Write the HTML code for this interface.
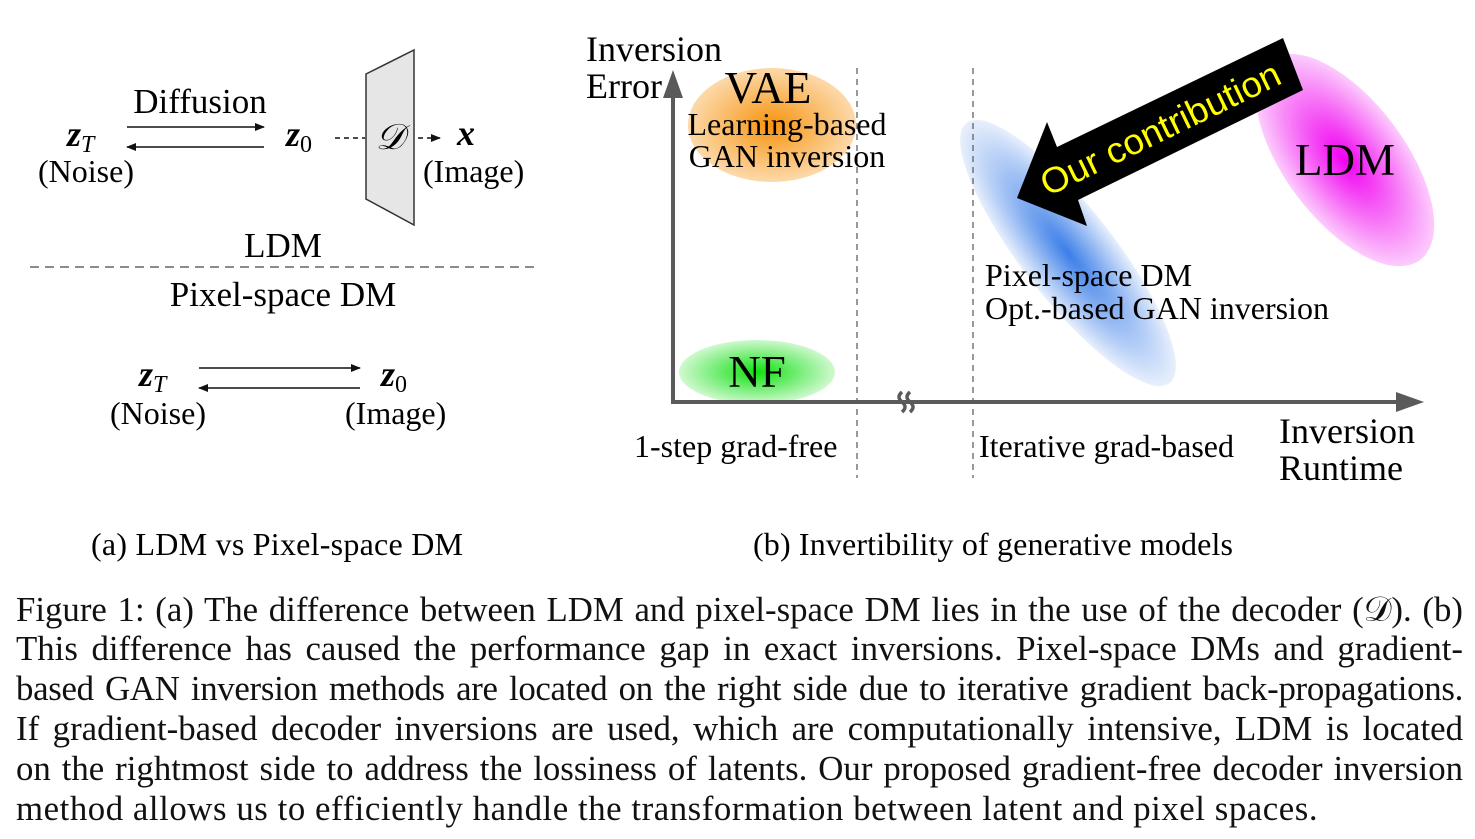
<!DOCTYPE html>
<html><head><meta charset="utf-8"><style>
body{margin:0;background:#fff;}
.cap{position:absolute;left:16px;width:1447px;font-family:"Liberation Serif","Times New Roman",serif;font-size:34.8px;color:#111;text-align:justify;text-align-last:justify;white-space:nowrap;line-height:40px;}
.cap.last{text-align-last:left;letter-spacing:0.55px;}
svg text{font-family:"Liberation Serif","Times New Roman",serif;}
</style></head><body>
<div style="position:relative;width:1475px;height:839px;overflow:hidden;">
<svg width="1475" height="839" style="position:absolute;left:0;top:0">
<defs>
<radialGradient id="gO"><stop offset="0" stop-color="#f7940f"/><stop offset="1" stop-color="#f7940f" stop-opacity="0.35"/></radialGradient>
<radialGradient id="gG"><stop offset="0" stop-color="#10e010"/><stop offset="1" stop-color="#10e010" stop-opacity="0.2"/></radialGradient>
<radialGradient id="gB"><stop offset="0" stop-color="#3b7ee8"/><stop offset="1" stop-color="#3b7ee8" stop-opacity="0.12"/></radialGradient>
<radialGradient id="gM"><stop offset="0" stop-color="#f000f0"/><stop offset="1" stop-color="#f000f0" stop-opacity="0.2"/></radialGradient>
<marker id="ah" markerWidth="10" markerHeight="8" refX="9" refY="4" orient="auto" markerUnits="userSpaceOnUse"><path d="M0,0 L10,4 L0,8 Z" fill="#111"/></marker>
</defs>
<text x="200" y="113" font-size="35" text-anchor="middle">Diffusion</text>
<line x1="127" y1="127" x2="264" y2="127" stroke="#111" stroke-width="1.6" marker-end="url(#ah)"/>
<line x1="264" y1="147" x2="127" y2="147" stroke="#111" stroke-width="1.6" marker-end="url(#ah)"/>
<text x="67" y="146" font-size="36" font-style="italic" font-weight="bold">z<tspan font-size="24" dy="6" font-weight="normal">T</tspan></text>
<text x="38" y="182" font-size="32">(Noise)</text>
<text x="286" y="146" font-size="36" font-style="italic" font-weight="bold">z<tspan font-size="24" dy="6" font-weight="normal" font-style="normal">0</tspan></text>
<line x1="335" y1="138" x2="365" y2="138" stroke="#111" stroke-width="1.5" stroke-dasharray="5,4"/>
<polygon points="366,74 414,50 414,225 366,199" fill="#e6e6e6" stroke="#333" stroke-width="1.5"/>
<text x="390" y="149" font-size="36" font-style="italic" text-anchor="middle">𝒟</text>
<line x1="418" y1="138" x2="440" y2="138" stroke="#111" stroke-width="1.5" stroke-dasharray="5,4" marker-end="url(#ah)"/>
<text x="457" y="145" font-size="36" font-style="italic" font-weight="bold">x</text>
<text x="423" y="182" font-size="32">(Image)</text>
<text x="283" y="257" font-size="35" text-anchor="middle">LDM</text>
<line x1="30" y1="267" x2="535" y2="267" stroke="#666" stroke-width="1.5" stroke-dasharray="9,6"/>
<text x="283" y="306" font-size="35" text-anchor="middle">Pixel-space DM</text>
<line x1="199" y1="368" x2="360" y2="368" stroke="#111" stroke-width="1.6" marker-end="url(#ah)"/>
<line x1="360" y1="388" x2="199" y2="388" stroke="#111" stroke-width="1.6" marker-end="url(#ah)"/>
<text x="139" y="386" font-size="36" font-style="italic" font-weight="bold">z<tspan font-size="24" dy="6" font-weight="normal">T</tspan></text>
<text x="110" y="424" font-size="32">(Noise)</text>
<text x="381" y="386" font-size="36" font-style="italic" font-weight="bold">z<tspan font-size="24" dy="6" font-weight="normal" font-style="normal">0</tspan></text>
<text x="345" y="424" font-size="32">(Image)</text>
<text x="277" y="555" font-size="32" text-anchor="middle" textLength="372">(a) LDM vs Pixel-space DM</text>
<ellipse cx="772" cy="125" rx="84" ry="57" fill="url(#gO)"/>
<ellipse cx="757" cy="372" rx="78" ry="32" fill="url(#gG)"/>
<ellipse cx="1068" cy="253" rx="165" ry="46" fill="url(#gB)" transform="rotate(52 1068 253)"/>
<ellipse cx="1345" cy="160" rx="125" ry="60" fill="url(#gM)" transform="rotate(53 1345 160)"/>
<line x1="857" y1="68" x2="857" y2="478" stroke="#555" stroke-width="1.2" stroke-dasharray="6,5"/>
<line x1="973" y1="68" x2="973" y2="478" stroke="#555" stroke-width="1.2" stroke-dasharray="6,5"/>
<line x1="673" y1="404" x2="673" y2="95" stroke="#5a5a5a" stroke-width="4"/>
<polygon points="663,98 683,98 673,70" fill="#5a5a5a"/>
<line x1="671" y1="402" x2="1398" y2="402" stroke="#5a5a5a" stroke-width="4"/>
<polygon points="1396,392 1396,412 1424,402" fill="#5a5a5a"/>
<path d="M902,392 q-6,5 0,10 q6,5 0,10 M910,392 q-6,5 0,10 q6,5 0,10" stroke="#5a5a5a" stroke-width="3.5" fill="none"/>
<text x="586" y="61" font-size="36">Inversion</text>
<text x="586" y="98" font-size="36">Error</text>
<text x="768" y="103" font-size="45" text-anchor="middle">VAE</text>
<text x="787" y="135" font-size="32" text-anchor="middle">Learning-based</text>
<text x="787" y="167" font-size="32" text-anchor="middle">GAN inversion</text>
<text x="757" y="387" font-size="45" text-anchor="middle">NF</text>
<text x="634" y="457" font-size="32">1-step grad-free</text>
<text x="979" y="457" font-size="32">Iterative grad-based</text>
<text x="1279" y="443" font-size="36">Inversion</text>
<text x="1279" y="480" font-size="36">Runtime</text>
<text x="985" y="286" font-size="32">Pixel-space DM</text>
<text x="985" y="319" font-size="32">Opt.-based GAN inversion</text>
<text x="1345" y="175" font-size="45" text-anchor="middle">LDM</text>
<polygon points="1283,38 1303,90 1078,200 1087,226 1017,198 1047,122 1057,147" fill="#000"/>
<text x="0" y="13" font-size="36" fill="#ff0" style="font-family:'Liberation Sans',sans-serif" text-anchor="middle" textLength="262" lengthAdjust="spacingAndGlyphs" transform="translate(1160,128) rotate(-25.8)">Our contribution</text>
<text x="993" y="555" font-size="32" text-anchor="middle" textLength="480">(b) Invertibility of generative models</text>
</svg>
<div class="cap" style="top:590px">Figure 1: (a) The difference between LDM and pixel-space DM lies in the use of the decoder (𝒟). (b)</div>
<div class="cap" style="top:629px">This difference has caused the performance gap in exact inversions. Pixel-space DMs and gradient-</div>
<div class="cap" style="top:669px;letter-spacing:-0.3px">based GAN inversion methods are located on the right side due to iterative gradient back-propagations.</div>
<div class="cap" style="top:709px">If gradient-based decoder inversions are used, which are computationally intensive, LDM is located</div>
<div class="cap" style="top:749px">on the rightmost side to address the lossiness of latents. Our proposed gradient-free decoder inversion</div>
<div class="cap last" style="top:789px">method allows us to efficiently handle the transformation between latent and pixel spaces.</div>
</div>
</body></html>
